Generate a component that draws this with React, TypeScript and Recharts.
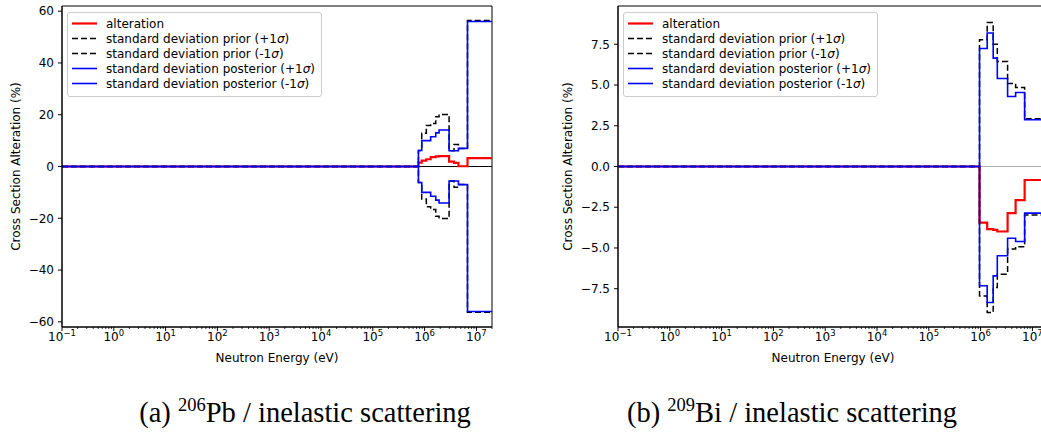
import React from "react";
import {
  LineChart,
  Line,
  XAxis,
  YAxis,
  ReferenceLine,
  ReferenceArea,
  Label,
  Legend,
} from "recharts";

// group lower edges in eV (last entry = upper end); first group is the flat zero region
const pbEdges = [0.1, 7.6e5, 8.8e5, 1.08e6, 1.31e6, 1.64e6, 1.9e6, 2.97e6, 3.7e6, 4.5e6, 6.73e6, 2e7];
const pbAlteration = [0, 1.5, 2.3, 2.8, 3.6, 3.9, 4.0, 1.9, 1.4, 0.1, 3.2];
const pbPriorPlus = [0, 6.2, 12.8, 15.8, 16.6, 19.2, 20.1, 6.1, 8.5, 7.0, 56.4];
const pbPriorMinus = [0, -6.2, -12.6, -15.5, -16.6, -19.2, -20.1, -5.6, -8.0, -7.0, -56.3];
const pbPostPlus = [0, 6.2, 10.0, 10.0, 11.5, 13.0, 14.1, 6.1, 6.1, 7.0, 56.0];
const pbPostMinus = [0, -6.2, -10.0, -10.0, -11.5, -13.0, -14.1, -5.6, -5.6, -7.0, -56.0];

const biEdges = [0.1, 9.53e5, 1.34e6, 1.75e6, 2.1e6, 3.32e6, 4.74e6, 7.08e6, 2e7];
const biAlteration = [0, -3.44, -3.84, -3.89, -3.99, -2.86, -2.06, -0.83];
const biPriorPlus = [0, 7.78, 8.84, 7.51, 6.45, 5.1, 4.85, 2.93];
const biPriorMinus = [0, -7.94, -8.96, -7.43, -6.61, -5.07, -4.93, -2.98];
const biPostPlus = [0, 7.24, 8.19, 6.65, 5.4, 4.3, 4.54, 2.87];
const biPostMinus = [0, -7.32, -8.35, -6.71, -5.48, -4.4, -4.6, -2.86];

const energyDomain = [0.1, 2e7];
const majorTicks = [0.1, 1, 10, 100, 1e3, 1e4, 1e5, 1e6, 1e7];
const minorSteps = [2, 3, 4, 5, 6, 7, 8, 9];
const energyTicks = [
  ...majorTicks,
  ...majorTicks.flatMap((t) => minorSteps.map((m) => m * t)).filter((v) => v <= 2e7),
].sort((a, b) => a - b);

const pbYTicks = [-60, -40, -20, 0, 20, 40, 60];
const biYTicks = [-7.5, -5, -2.5, 0, 2.5, 5, 7.5];

const captions = [
  { tag: "a", mass: "206", element: "Pb", reaction: "inelastic scattering" },
  { tag: "b", mass: "209", element: "Bi", reaction: "inelastic scattering" },
];

const series = [
  { key: "alteration", label: "alteration", color: "#ff0000", width: 2.2, dash: undefined },
  { key: "priorPlus", label: "standard deviation prior (+1σ)", color: "#000000", width: 1.5, dash: "6 3" },
  { key: "priorMinus", label: "standard deviation prior (-1σ)", color: "#000000", width: 1.5, dash: "6 3" },
  { key: "postPlus", label: "standard deviation posterior (+1σ)", color: "#0000ff", width: 1.6, dash: undefined },
  { key: "postMinus", label: "standard deviation posterior (-1σ)", color: "#0000ff", width: 1.6, dash: undefined },
];

const SANS = "'DejaVu Sans', sans-serif";
const minus = (s: string) => s.replace("-", "\u2212");

const buildRows = (edges: number[], values: Record<string, number[]>) =>
  edges.map((energy, i) => {
    const row: Record<string, number> = { energy };
    Object.keys(values).forEach((k) => {
      row[k] = values[k][Math.min(i, values[k].length - 1)];
    });
    return row;
  });

const pbData = buildRows(pbEdges, {
  alteration: pbAlteration,
  priorPlus: pbPriorPlus,
  priorMinus: pbPriorMinus,
  postPlus: pbPostPlus,
  postMinus: pbPostMinus,
});

const biData = buildRows(biEdges, {
  alteration: biAlteration,
  priorPlus: biPriorPlus,
  priorMinus: biPriorMinus,
  postPlus: biPostPlus,
  postMinus: biPostMinus,
});

const EnergyTick = ({ x, y, payload }: any) => {
  const lg = Math.log10(payload.value);
  const exp = Math.round(lg);
  if (Math.abs(lg - exp) > 1e-6) {
    return <line x1={x} x2={x} y1={y} y2={y + 2} stroke="#000" strokeWidth={0.8} />;
  }
  return (
    <g>
      <line x1={x} x2={x} y1={y} y2={y + 4} stroke="#000" strokeWidth={1} />
      <text x={x} y={y + 14} textAnchor="middle" fontSize={12} fill="#000" fontFamily={SANS}>
        10
        <tspan dy={-5} fontSize={8.5}>
          {minus(String(exp))}
        </tspan>
      </text>
    </g>
  );
};

const withSigma = (label: string) => {
  const parts = label.split("σ");
  if (parts.length === 1) return label;
  return (
    <>
      {parts[0]}
      <i>σ</i>
      {parts[1]}
    </>
  );
};

const LegendBox = () => (
  <div
    style={{
      border: "1px solid #cccccc",
      borderRadius: 3,
      background: "rgba(255,255,255,0.8)",
      padding: "3px 6px 5px 4px",
      fontFamily: SANS,
      fontSize: 12,
      color: "#000",
    }}
  >
    {series.map((s) => (
      <div key={s.key} style={{ display: "flex", alignItems: "center", height: 15, whiteSpace: "nowrap" }}>
        <svg width={25} height={15} style={{ marginRight: 9 }}>
          <line x1={0} x2={25} y1={7.5} y2={7.5} stroke={s.color} strokeWidth={s.width} strokeDasharray={s.dash} />
        </svg>
        <span>{withSigma(s.label)}</span>
      </div>
    ))}
  </div>
);

interface PanelProps {
  data: Record<string, number>[];
  yDomain: number[];
  yTicks: number[];
  formatY: (v: number) => string;
  zeroColor: string;
  titleOffset: number;
}

const Panel: React.FC<PanelProps> = ({ data, yDomain, yTicks, formatY, zeroColor, titleOffset }) => (
  <LineChart width={500} height={380} data={data} margin={{ top: 6, right: 8, left: 0, bottom: 0 }}>
    <XAxis
      dataKey="energy"
      type="number"
      scale="log"
      domain={energyDomain}
      allowDataOverflow
      ticks={energyTicks}
      interval={0}
      tick={(p: any) => <EnergyTick {...p} />}
      tickLine={false}
      tickSize={0}
      tickMargin={0}
      height={53}
      stroke="#000"
    >
      <Label value="Neutron Energy (eV)" position="insideBottom" offset={18} fill="#000" fontSize={12} fontFamily={SANS} />
    </XAxis>
    <YAxis
      type="number"
      domain={yDomain}
      allowDataOverflow
      ticks={yTicks}
      interval={0}
      tickFormatter={formatY}
      width={62}
      tickSize={4}
      tickMargin={4}
      stroke="#000"
      tick={{ fill: "#000", fontSize: 12, fontFamily: SANS }}
    >
      <Label
        value="Cross Section Alteration (%)"
        angle={-90}
        position="insideLeft"
        offset={titleOffset}
        fill="#000"
        fontSize={12}
        fontFamily={SANS}
        style={{ textAnchor: "middle" }}
      />
    </YAxis>
    <ReferenceLine y={0} stroke={zeroColor} strokeWidth={1} />
    {series.map((s) => (
      <Line
        key={s.key}
        type="stepAfter"
        dataKey={s.key}
        name={s.label}
        stroke={s.color}
        strokeWidth={s.width}
        strokeDasharray={s.dash}
        dot={false}
        activeDot={false}
        isAnimationActive={false}
      />
    ))}
    <ReferenceArea
      x1={energyDomain[0]}
      x2={energyDomain[1]}
      y1={yDomain[0]}
      y2={yDomain[1]}
      fill="none"
      stroke="#000"
      strokeWidth={1}
    />
    <Legend
      layout="horizontal"
      verticalAlign="middle"
      align="center"
      wrapperStyle={{ left: 67, top: 12, width: "auto", height: "auto" }}
      content={() => <LegendBox />}
    />
  </LineChart>
);

const Caption = ({ center, c }: { center: number; c: (typeof captions)[number] }) => (
  <div
    style={{
      position: "absolute",
      left: center,
      top: 397,
      transform: "translateX(-50%)",
      fontFamily: "'Liberation Serif', 'Times New Roman', serif",
      fontSize: 28.5,
      lineHeight: "32px",
      whiteSpace: "nowrap",
      color: "#000",
    }}
  >
    ({c.tag}) <span style={{ fontSize: 18.5, position: "relative", top: -11 }}>{c.mass}</span>
    {c.element} / {c.reaction}
  </div>
);

const App = () => (
  <div
    style={{
      position: "fixed",
      left: 0,
      top: 0,
      width: 1041,
      height: 436,
      overflow: "hidden",
      background: "#fff",
    }}
  >
    <div style={{ position: "absolute", left: 0, top: 0 }}>
      <Panel
        data={pbData}
        yDomain={[-62, 62]}
        yTicks={pbYTicks}
        formatY={(v) => minus(String(v))}
        zeroColor="#000"
        titleOffset={15.5}
      />
    </div>
    <div style={{ position: "absolute", left: 556, top: 0 }}>
      <Panel
        data={biData}
        yDomain={[-9.85, 9.85]}
        yTicks={biYTicks}
        formatY={(v) => minus(v.toFixed(1))}
        zeroColor="#b0b0b0"
        titleOffset={12}
      />
    </div>
    <Caption center={305} c={captions[0]} />
    <Caption center={792} c={captions[1]} />
  </div>
);

export default App;
